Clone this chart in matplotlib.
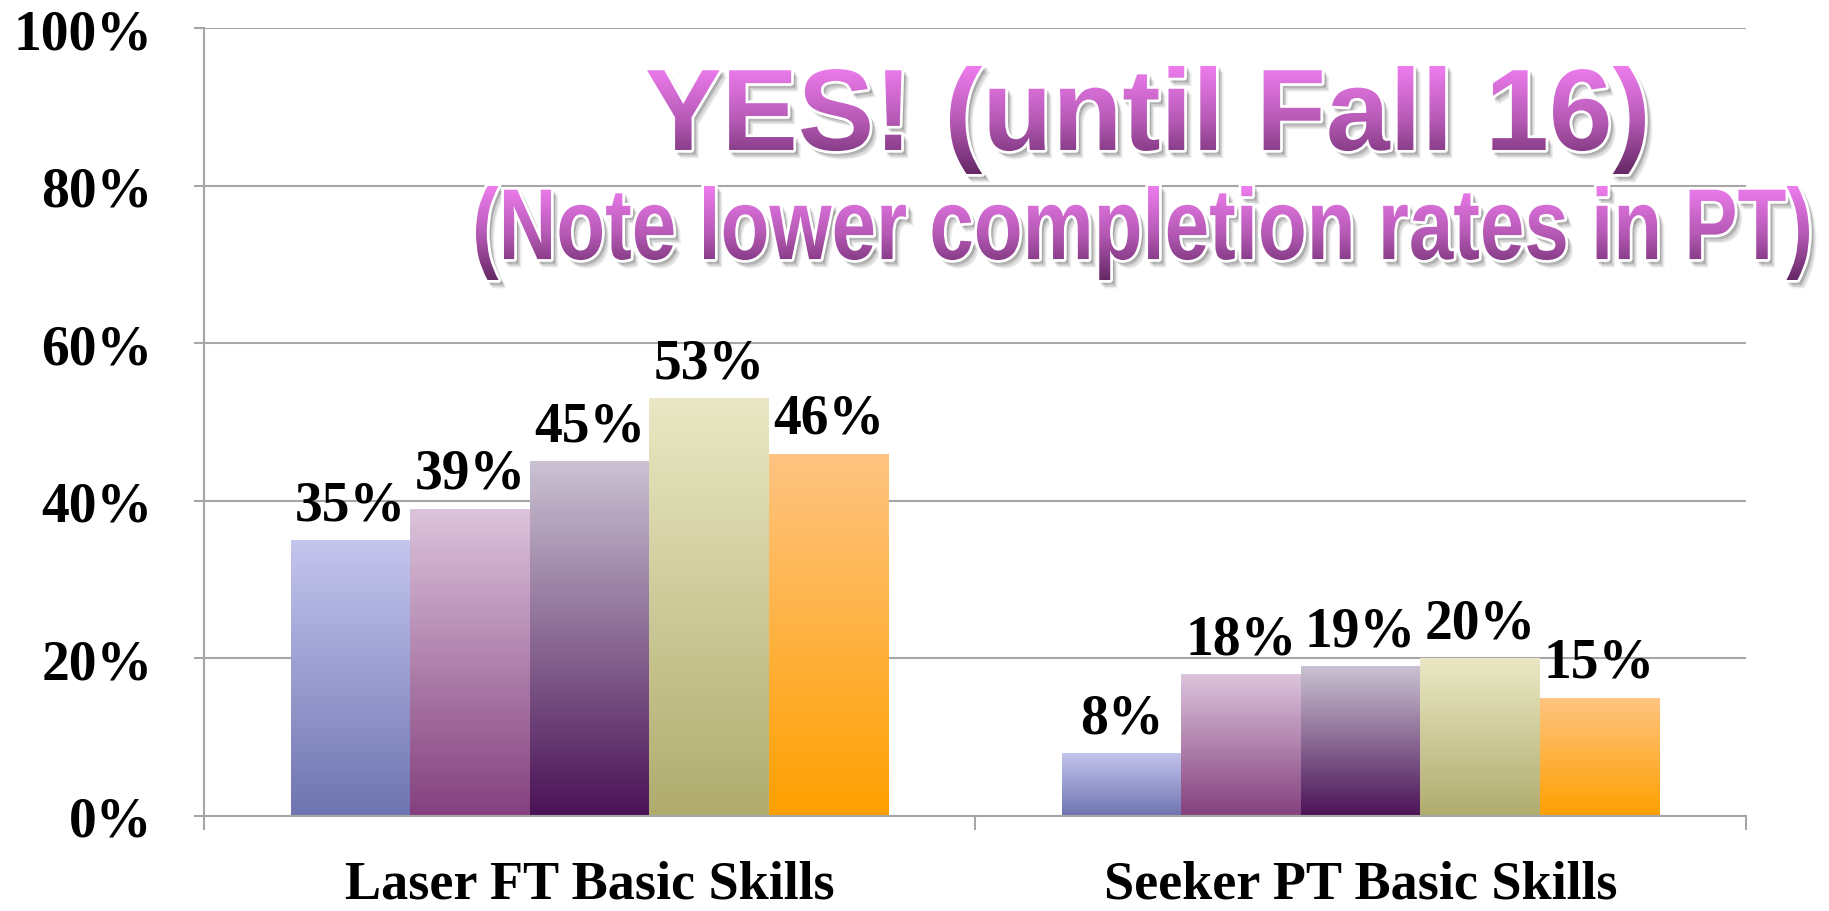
"""Completion rates, Laser FT vs Seeker PT basic skills (gradient bars, slide style)."""
import numpy as np
import matplotlib
matplotlib.use("Agg")
import matplotlib.pyplot as plt
from matplotlib.colors import LinearSegmentedColormap
from matplotlib.patches import PathPatch
from matplotlib.textpath import TextPath
from matplotlib.font_manager import FontProperties
from matplotlib.transforms import Affine2D
from matplotlib.ticker import FuncFormatter, FixedLocator

categories = ["Laser FT Basic Skills", "Seeker PT Basic Skills"]
# one list per bar colour (5 cohorts), values for [Laser FT, Seeker PT]
cohort1 = [35, 8]
cohort2 = [39, 18]
cohort3 = [45, 19]
cohort4 = [53, 20]
cohort5 = [46, 15]
series_vals = [cohort1, cohort2, cohort3, cohort4, cohort5]
yticks = [0, 20, 40, 60, 80, 100]

top_colors = ["#c4c6ee", "#dcc4dc", "#cac2d2", "#eae8c4", "#fec482"]
bottom_colors = ["#6e74b0", "#84407e", "#4a1256", "#b0ac6e", "#ffa000"]
GRID = "#a6a6a6"
SERIF = "Liberation Serif"

W, H = 1829, 912
fig = plt.figure(figsize=(W / 100, H / 100), dpi=100)
ax = fig.add_axes([204 / W, 95 / H, 1542 / W, 788 / H])

x = np.arange(len(categories))
width = 0.155
grad = np.linspace(0, 1, 256).reshape(-1, 1)
for i, vals in enumerate(series_vals):
    bars = ax.bar(x + (i - 2) * width, vals, width, color="none", edgecolor="none", zorder=2)
    cmap = LinearSegmentedColormap.from_list(f"c{i}", [bottom_colors[i], top_colors[i]])
    for b, v in zip(bars, vals):
        x0 = b.get_x()
        im = ax.imshow(grad, extent=(x0, x0 + b.get_width(), 0, v), origin="lower",
                       aspect="auto", cmap=cmap, zorder=2, interpolation="bilinear")
        im.set_clip_path(b)
        ax.annotate(f"{v}%", (x0 + b.get_width() / 2, v), xytext=(0, 15), textcoords="offset points",
                    ha="center", va="baseline", fontsize=40, fontweight="bold", family=SERIF, zorder=3)

ax.set_xlim(-0.5, len(categories) - 0.5)
ax.set_ylim(0, 100)
ax.set_yticks(yticks)
ax.yaxis.set_major_formatter(FuncFormatter(lambda v, p: f"{v:.0f}%"))
ax.set_xticks(x)
ax.set_xticklabels(categories)
ax.xaxis.set_minor_locator(FixedLocator([-0.5, 0.5, 1.5]))
ax.tick_params(axis="x", which="major", length=0, pad=31)
ax.tick_params(axis="x", which="minor", length=10, width=1.5, color=GRID, direction="out")
ax.tick_params(axis="y", length=7, width=1.5, color=GRID, direction="out", pad=30)
for lab in ax.get_yticklabels():
    lab.set_fontfamily(SERIF); lab.set_fontweight("bold"); lab.set_fontsize(40)
for lab in ax.get_xticklabels():
    lab.set_fontfamily(SERIF); lab.set_fontweight("bold"); lab.set_fontsize(39)
ax.yaxis.grid(True, color=GRID, lw=1.5)
ax.set_axisbelow(True)
for s in ("top", "right"):
    ax.spines[s].set_visible(False)
for s in ("left", "bottom"):
    ax.spines[s].set_color(GRID); ax.spines[s].set_linewidth(1.5)

# ---- gradient WordArt-like headline ----
oax = fig.add_axes([0, 0, 1, 1], zorder=5)
oax.set_xlim(0, W); oax.set_ylim(0, H); oax.axis("off")
title_cmap = LinearSegmentedColormap.from_list("title", ["#662866", "#b65ab6", "#ee7cee"])


def headline(s, box):
    # box = (left, top, right, bottom) in pixels, origin top-left
    l, t, r, btm = box
    tp = TextPath((0, 0), s, size=100, prop=FontProperties(family="Liberation Sans", weight="bold"))
    e = tp.get_extents()
    tr = Affine2D().translate(-e.x0, -e.y0).scale((r - l) / e.width, (btm - t) / e.height).translate(l, H - btm)
    path = tr.transform_path(tp)
    for dx, dy, a in ((6, -7, 0.10), (4, -5, 0.15), (3, -3, 0.2)):
        oax.add_patch(PathPatch(path, transform=Affine2D().translate(dx, dy) + oax.transData,
                                fc="#555555", ec="#555555", lw=2, alpha=a, zorder=1))
    oax.add_patch(PathPatch(path, fc="white", ec="white", lw=4, joinstyle="round", zorder=2))
    clip = PathPatch(path, fc="none", ec="none", zorder=2)
    oax.add_patch(clip)
    im = oax.imshow(grad, extent=(l, r, H - btm, H - t), origin="lower", aspect="auto",
                    cmap=title_cmap, interpolation="bilinear", zorder=3)
    im.set_clip_path(clip)


headline("YES! (until Fall 16)", (647, 67, 1645, 175))
headline("(Note lower completion rates in PT)", (476, 187, 1809, 281))
oax.set_xlim(0, W); oax.set_ylim(0, H)

fig.savefig("out.png", dpi=100)
